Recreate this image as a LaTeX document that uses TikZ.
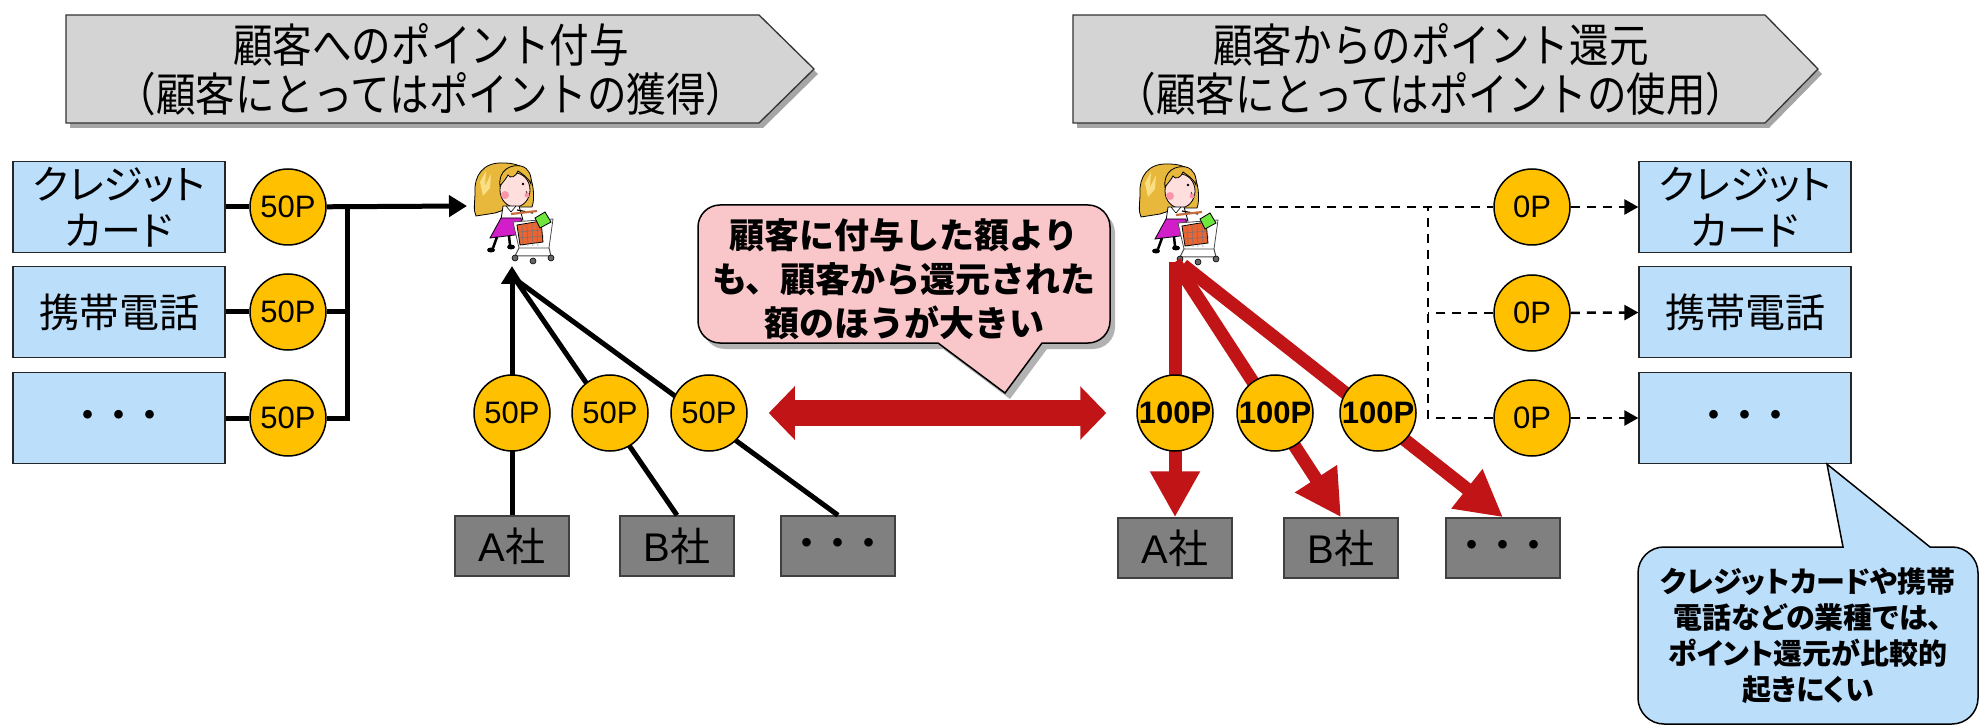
\documentclass[tikz,border=0pt]{standalone}
\usepackage{fontspec}
\setmainfont{Liberation Sans}
\newfontfamily\jp{Noto Sans CJK JP}
\newfontfamily\jpp[RawFeature=+palt]{Noto Sans CJK JP}
\newfontfamily\jphd[FakeStretch=0.86]{Noto Sans CJK JP}
\usetikzlibrary{arrows.meta,shadows,calc}

\definecolor{boxblue}{RGB}{187,222,251}
\definecolor{coinyel}{RGB}{255,192,0}
\definecolor{corpgray}{RGB}{128,128,128}
\definecolor{hdrgray}{RGB}{212,212,212}
\definecolor{pinkfill}{RGB}{249,199,201}
\definecolor{redarrow}{RGB}{192,20,22}
\definecolor{hair}{RGB}{232,184,60}
\definecolor{hairlight}{RGB}{250,222,130}
\definecolor{skin}{RGB}{255,222,222}
\definecolor{cheek}{RGB}{250,150,170}
\definecolor{skirt}{RGB}{210,30,200}
\definecolor{cartbox}{RGB}{235,100,50}
\definecolor{cartgreen}{RGB}{110,230,60}
\definecolor{handle}{RGB}{200,110,60}

\tikzset{
  bluebox/.style={draw=black!85, line width=1.3pt, fill=boxblue,
    minimum width=212pt, minimum height=91pt, inner sep=0pt,
    font=\jpp\fontsize{40}{46}\selectfont, align=center},
  coin/.style={circle, draw=black, line width=1.5pt, fill=coinyel,
    minimum size=76pt, inner sep=0pt, font=\fontsize{31}{31}\selectfont},
  bigcoin/.style={coin, font=\bfseries\fontsize{31}{31}\selectfont},
  corp/.style={draw=black!75, line width=1.5pt, fill=corpgray,
    minimum width=114pt, minimum height=60pt, inner sep=0pt,
    font=\fontsize{40}{40}\selectfont},
  dots/.style={font=\jp\bfseries\fontsize{31}{31}\selectfont},
  hdrtext/.style={font=\jphd\fontsize{46}{49}\selectfont, align=center},
  link/.style={draw=black, line width=5pt},
  linkarrow/.style={link, -{Triangle[width=21pt,length=18pt]}},
  dashlink/.style={draw=black, line width=2.5pt, dash pattern=on 9pt off 7pt},
  dasharrow/.style={dashlink, -{Triangle[width=15pt,length=14pt]}},
  redlink/.style={draw=redarrow, line width=13pt, -{Triangle[width=47pt,length=46pt]}},
  redboth/.style={draw=redarrow, line width=26pt,
    {Triangle[width=52pt,length=26pt]}-{Triangle[width=52pt,length=26pt]}},
  callouttext/.style={font=\jp\bfseries\fontsize{35}{44}\selectfont, align=center},
  shopper/.pic={
    % hair at the back
    \filldraw[fill=hair, draw=black, line width=0.8pt]
      (30,1) .. controls (10,0) and (1,14) .. (2,30)
      .. controls (2,40) and (0,48) .. (3,54)
      -- (22,51) -- (40,45) -- (59,45)
      .. controls (62,38) and (61,18) .. (54,9)
      .. controls (48,3) and (40,1) .. (30,1) -- cycle;
    \fill[hairlight] (7,20) -- (13,9) -- (12,24) -- (18,12) -- (17,26) -- (10,34) -- cycle;
    % face
    \filldraw[fill=skin, draw=black, line width=0.8pt] (42,28) ellipse [x radius=15pt, y radius=17pt];
    % fringe
    \filldraw[fill=hair, draw=black, line width=0.8pt]
      (27,24) .. controls (25,8) and (38,2) .. (48,4)
      .. controls (56,6) and (59,14) .. (58,22)
      .. controls (55,15) and (49,12) .. (45,9)
      .. controls (43,15) and (37,17) .. (35,13)
      .. controls (33,17) and (30,20) .. (27,24) -- cycle;
    \fill[cheek] (32,33) circle (4pt);
    \fill[cheek] (54,33) circle (2.5pt);
    \fill (50,22) circle (1.3pt);
    \draw[line width=0.6pt] (53,29) -- (54,31);
    % blouse and skirt
    \filldraw[fill=white, draw=black, line width=0.8pt] (30,44) -- (46,44) -- (50,58) -- (28,58) -- cycle;
    \draw[line width=0.6pt] (33,44) -- (38,50) -- (43,44);
    \filldraw[fill=skirt, draw=black, line width=0.8pt] (28,56) -- (48,56) -- (50,72) -- (17,76) -- cycle;
    % legs and shoes
    \draw[line width=2.5pt] (24,75) -- (20,86);
    \draw[line width=2.5pt] (36,74) -- (37,83);
    \fill (18,88) ellipse [x radius=4pt, y radius=2.5pt];
    \fill (38,85) ellipse [x radius=4pt, y radius=2.5pt];
    % arm and cart handle
    \draw[line width=1.2pt] (44,48) -- (60,51);
    \draw[line width=2.2pt, handle] (38,52) -- (64,49);
    % cart
    \filldraw[fill=white, draw=black!70, line width=0.8pt] (40,60) -- (80,57) -- (76,86) -- (46,86) -- cycle;
    \filldraw[fill=cartbox, draw=black, line width=0.8pt] (44,63) -- (68,59) -- (70,80) -- (47,83) -- cycle;
    \foreach \gx in {49,54,59,64} \draw[black!55, line width=0.5pt] (\gx,62) -- (\gx+1,84);
    \draw[black!55, line width=0.5pt] (45,70) -- (70,68) (46,76) -- (71,74);
    \filldraw[fill=cartgreen, draw=black, line width=0.8pt] (62,56) -- (72,50) -- (78,60) -- (67,66) -- cycle;
    \draw[black!70, line width=1pt] (46,86) -- (42,94) (76,86) -- (78,94) (42,94) -- (78,94);
    \filldraw[fill=black!60, draw=black, line width=0.6pt]
      (42,96) circle (3pt) (60,99) circle (3pt) (78,96) circle (3pt);
  }
}

\begin{document}
\begin{tikzpicture}[x=1pt, y=-1pt]
\useasboundingbox (0,0) rectangle (1984,727);

% ---------- section banners ----------
\path[draw=black!80, line width=1.3pt, fill=hdrgray,
      drop shadow={shadow xshift=4pt, shadow yshift=-5pt, opacity=0.35, fill=black}]
  (66,15) -- (759,15) -- (814,69) -- (759,123) -- (66,123) -- cycle;
\node[hdrtext] (hleft) at (431,70) {顧客へのポイント付与\\（顧客にとってはポイントの獲得）};

\path[draw=black!80, line width=1.3pt, fill=hdrgray,
      drop shadow={shadow xshift=4pt, shadow yshift=-5pt, opacity=0.35, fill=black}]
  (1073,15) -- (1765,15) -- (1818,69) -- (1765,123) -- (1073,123) -- cycle;
\node[hdrtext] (hright) at (1431,70) {顧客からのポイント還元\\（顧客にとってはポイントの使用）};

% ---------- shoppers ----------
\pic at (473,162) {shopper};
\pic at (1138,163) {shopper};
\coordinate (lshopW) at (467,206);
\coordinate (lshopS) at (512,266);
\coordinate (lshopS2) at (515,279);
\coordinate (rshopE) at (1215,207);
\coordinate (rshopS) at (1175,262);
\coordinate (rshopS3) at (1183,265);

% ---------- left: points granted ----------
\node[bluebox] (lb1) at (119,207) {クレジット\\カード};
\node[bluebox] (lb2) at (119,312) {携帯電話};
\node[bluebox, dots] (lb3) at (119,418) {・・・};

\node[coin] (lc1) at (288,207) {50P};
\node[coin] (lc2) at (288,312) {50P};
\node[coin] (lc3) at (288,418) {50P};
\coordinate (bus) at (347,207);

\draw[link] (lb1) -- (lc1);
\draw[link] (lb2) -- (lc2);
\draw[link] (lb3) -- (lc3);
\draw[linkarrow] (lc1) -- (lshopW);
\draw[link] (lc2) -- (lc2 -| bus);
\draw[link] (lc3) -| (bus);

\node[corp] (la) at (512,546) {A{\jp 社}};
\node[corp] (lbb) at (677,546) {B{\jp 社}};
\node[corp, dots] (lc) at (838,546) {・・・};

\draw[linkarrow] (la.north) -- (lshopS);
\draw[link] (lbb.north) -- (lshopS2);
\draw[link] (lc.north) -- (lshopS2);

\node[coin] (m1) at (512,413) {50P};
\node[coin] (m2) at (610,413) {50P};
\node[coin] (m3) at (709,413) {50P};

% ---------- right: points redeemed ----------
\node[bluebox] (rb1) at (1745,207) {クレジット\\カード};
\node[bluebox] (rb2) at (1745,312) {携帯電話};
\node[bluebox, dots] (rb3) at (1745,418) {・・・};

\node[coin] (rc1) at (1532,207) {0P};
\node[coin] (rc2) at (1532,313) {0P};
\node[coin] (rc3) at (1532,418) {0P};
\coordinate (junc) at (1428,207);

\draw[dashlink] (rshopE) -- (rc1);
\draw[dashlink] (rc2) -- (rc2 -| junc);
\draw[dashlink] (rc3) -| (junc);
\draw[dasharrow] (rc1) -- (rb1);
\draw[dasharrow] (rc2) -- (rb2);
\draw[dasharrow] (rc3) -- (rb3);

\node[corp] (ra) at (1175,548) {A{\jp 社}};
\node[corp] (rbb) at (1341,548) {B{\jp 社}};
\node[corp, dots] (rc) at (1503,548) {・・・};

\draw[redlink] (rshopS) -- (ra.north);
\draw[redlink] (rshopS) -- (rbb.north);
\draw[redlink] (rshopS3) -- (rc.north);

\node[bigcoin] (r1) at (1175,413) {100P};
\node[bigcoin] (r2) at (1275,413) {100P};
\node[bigcoin] (r3) at (1378,413) {100P};

% ---------- comparison arrow ----------
\draw[redboth, shorten <=21pt, shorten >=30pt] (m3) -- (r1);

% ---------- callouts ----------
\path[draw=black, line width=1.5pt, fill=pinkfill,
      drop shadow={shadow xshift=5pt, shadow yshift=-6pt, opacity=0.3, fill=black}]
  (938,343) [rounded corners=22pt] -- (698,343) -- (698,205) -- (1110,205) -- (1110,343)
  [sharp corners] -- (1042,343) -- (1005,393) -- cycle;
\node[callouttext] (note1) at (904,279) {顧客に付与した額より\\も、顧客から還元された\\額のほうが大きい};

\path[draw=black, line width=1.5pt, fill=boxblue]
  (1930,547) [rounded corners=26pt] -- (1978,547) -- (1978,724) -- (1638,724) -- (1638,547)
  [sharp corners] -- (1843,547) -- (rb3.south -| 1827,0) -- cycle;
\node[callouttext, font=\jpp\bfseries\fontsize{29}{36}\selectfont] (note2) at (1808,636)
  {クレジットカードや携帯\\電話などの業種では、\\ポイント還元が比較的\\起きにくい};
\end{tikzpicture}
\end{document}
